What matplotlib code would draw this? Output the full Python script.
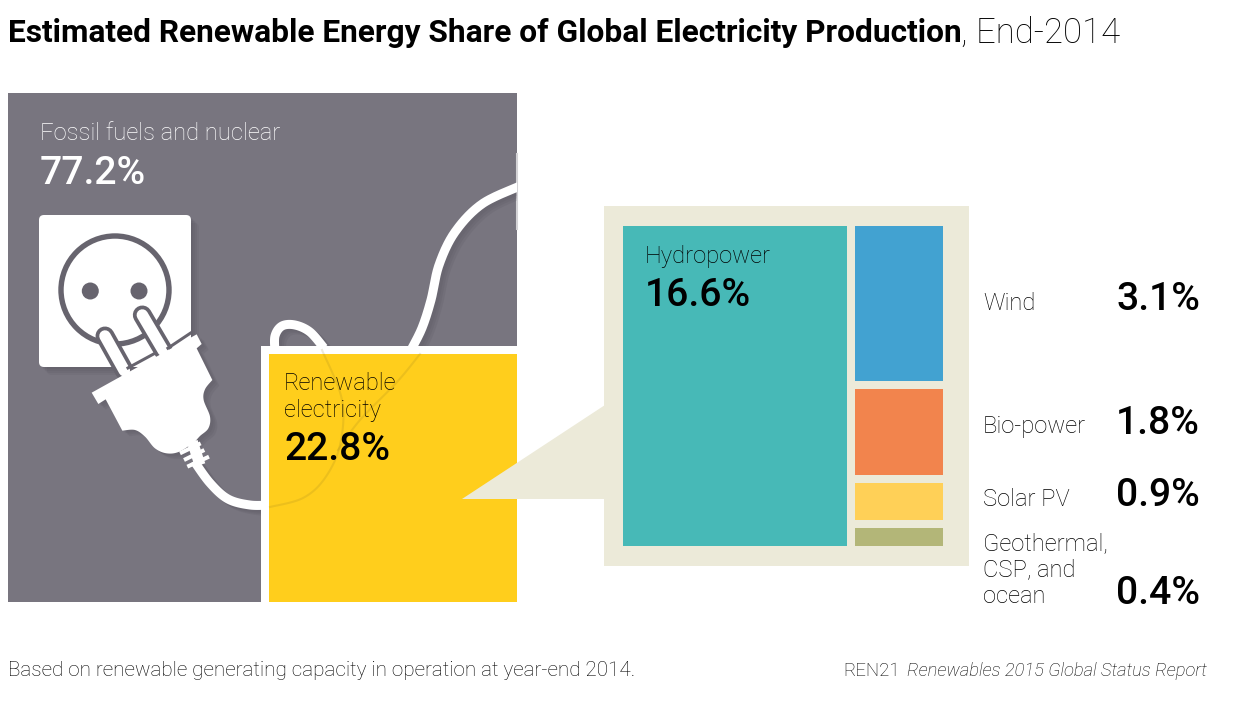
import numpy as np
import matplotlib
matplotlib.use("Agg")
import matplotlib.pyplot as plt
from matplotlib.patches import Rectangle, Circle, Polygon, FancyBboxPatch

# values printed on the chart
fossil_share = 77.2
renewable_share = 22.8
hydro_share = 16.6
tile_names = ["Wind", "Bio-power", "Solar PV", "Geothermal,\nCSP, and\nocean"]
tile_shares = [3.1, 1.8, 0.9, 0.4]
# tile sizes as they are drawn (the artwork is not quite to scale)
tile_drawn = [3.25, 1.80, 0.78, 0.38]
renewable_drawn = 23.7

# colours
GREY = "#78757f"
RING = "#67646e"
SHADOW = "#4f4c57"
YELLOW = "#ffce1c"
PANEL = "#ecead9"
TEAL = "#47b9b7"
tile_colors = ["#42a2d1", "#f2844d", "#ffd057", "#b3b678"]

plt.rcParams["font.family"] = "Roboto"
fig = plt.figure(figsize=(12.33, 7.01), dpi=100)
ax = fig.add_axes([0, 0, 1, 1])
ax.set_xlim(0, 1233)
ax.set_ylim(701, 0)
ax.axis("off")


def smooth(points, n=24):
    # catmull-rom through the points, good enough for cable and plug outlines
    p = np.array(points, dtype=float)
    p = np.vstack([p[0], p, p[-1]])
    out = []
    for i in range(1, len(p) - 2):
        for t in np.linspace(0, 1, n, endpoint=False):
            out.append(0.5 * (2 * p[i] + (p[i + 1] - p[i - 1]) * t
                              + (2 * p[i - 1] - 5 * p[i] + 4 * p[i + 1] - p[i + 2]) * t ** 2
                              + (3 * p[i] - p[i - 1] - 3 * p[i + 1] + p[i + 2]) * t ** 3))
    out.append(p[-1])
    return np.array(out)


def crop(points):
    return [(x / 3 + 85, y / 3 + 300) for x, y in points]


def px(w):
    return w * 0.72


# big square, renewable corner scaled from its share
left, top, side = 8, 93, 509
ren_side = side * np.sqrt(renewable_drawn / 100)
ren_x = left + side - ren_side
ren_y = top + side - ren_side
square = Rectangle((left, top), side, side, fc=GREY, ec="none", zorder=1)
ax.add_patch(square)
ax.plot([517, 517], [154, 229], color="#d4d3d6", lw=1.5, zorder=1.5)


def cable(points, lw=9):
    xy = smooth(points)
    for off in (7, 5, 3):
        line, = ax.plot(xy[:, 0] + off, xy[:, 1] + off * 0.8, color=SHADOW, lw=px(lw), alpha=0.13,
                        zorder=2.9, solid_capstyle="butt")
        line.set_clip_path(square)
    line, = ax.plot(xy[:, 0], xy[:, 1], color="white", lw=px(lw), zorder=3, solid_capstyle="butt")
    line.set_clip_path(square)


# socket plate
for off in (8, 6, 4, 2):
    ax.add_patch(FancyBboxPatch((44 + off, 220 + off), 142, 142, boxstyle="round,pad=5,rounding_size=5",
                                fc=SHADOW, ec="none", alpha=0.12, zorder=1.6))
ax.add_patch(FancyBboxPatch((44, 220), 142, 142, boxstyle="round,pad=5,rounding_size=5",
                            fc="white", ec="none", zorder=2))
ax.add_patch(Circle((115, 290), 54, fc="white", ec=RING, lw=3.9, zorder=2.1))
ax.add_patch(Circle((90.3, 291), 8.5, fc=RING, ec="none", zorder=2.2))
ax.add_patch(Circle((139, 291), 8.5, fc=RING, ec="none", zorder=2.2))

# cable, lower part and the loop and riser behind the yellow square
cable([(194, 461), (210, 483), (228, 499), (250, 505), (270, 505)])
cable([(275, 352), (275, 336), (282, 326), (295, 325), (310, 332), (324, 348)])
cable([(411, 350), (422, 328), (431, 300), (439, 265), (455, 232), (482, 204), (520, 186)])

# plug body
flange = [(20, 278), (335, 103), (350, 132), (335, 145), (382, 240)]
lobes = [(382, 240), (360, 268), (356, 300), (375, 350), (370, 385), (345, 408), (330, 425)]
bottom = [(330, 425), (283, 455), (245, 460), (210, 445), (180, 410), (150, 390), (112, 392)]
back = [(112, 392), (62, 298), (40, 312)]
body = np.vstack([np.array(crop(flange)), smooth(crop(lobes)), smooth(crop(bottom)), np.array(crop(back))])
for off in (7, 5, 3):
    ax.add_patch(Polygon(body + [off, off * 0.8], closed=True, fc=SHADOW, ec="none", alpha=0.13, zorder=2.5))

# pins go under the body so only the part above the flange shows
for tip, base in [((60, 108), (118, 212)), ((172, 45), (235, 152))]:
    (x0, y0), (x1, y1) = crop([tip, base])
    ax.plot([x0, x1], [y0, y1], color=RING, lw=px(19), solid_capstyle="round", zorder=2.6)
    ax.plot([x0, x1], [y0, y1], color="white", lw=px(11.5), solid_capstyle="round", zorder=2.7)
ax.add_patch(Polygon(body, closed=True, fc="white", ec="none", zorder=4))

# grey gaps along the plug face, between the pins and out to the plate edge
for s, e in [((125, 206), (215, 157)), ((245, 147), (320, 97))]:
    (x0, y0), (x1, y1) = crop([s, e])
    ax.plot([x0, x1], [y0, y1], color=RING, lw=px(3), solid_capstyle="butt", zorder=4.2)

# strain relief, a core with three ribs
(x0, y0), (x1, y1) = crop([(322, 425), (345, 495)])
ax.plot([x0, x1], [y0, y1], color="white", lw=px(11), solid_capstyle="butt", zorder=3.5)
for s, e in [((285, 460), (347, 430)), ((297, 480), (358, 450)), ((307, 500), (372, 470))]:
    (x0, y0), (x1, y1) = crop([s, e])
    ax.plot([x0, x1], [y0, y1], color="white", lw=px(4), solid_capstyle="butt", zorder=3.5)

# white border and renewable square
ax.add_patch(Rectangle((ren_x - 8, ren_y - 8), ren_side + 8, ren_side + 8, fc="white", ec="none", zorder=5))
ax.add_patch(Rectangle((ren_x, ren_y), ren_side, ren_side, fc=YELLOW, ec="none", zorder=6))

# faint ghost of the cable through the yellow square
for pts in [[(270, 507), (303, 498), (325, 478), (340, 445), (342, 400), (322, 350)],
            [(420, 354), (397, 382), (360, 420), (338, 450)]]:
    xy = smooth(pts)
    ax.plot(xy[:, 0], xy[:, 1], color="#8a7420", lw=1.5, alpha=0.16, zorder=6.5)

# callout panel
pl, pt, pw, ph = 604, 206, 365, 360
ax.add_patch(Polygon([(pl + 1, 405), (462, 499), (pl + 1, 499)], closed=True, fc=PANEL, ec="none", zorder=7))
ax.add_patch(Rectangle((pl, pt), pw, ph, fc=PANEL, ec="none", zorder=7))

# hydro tile and the stacked column, heights follow the drawn sizes
gap = 8
col_top, col_h = 226, 320
hydro_x, hydro_w = 623, 224
ax.add_patch(Rectangle((hydro_x, col_top), hydro_w, col_h, fc=TEAL, ec="none", zorder=8))
col_x = hydro_x + hydro_w + gap
col_w = 88
px_per_share = (col_h - gap * (len(tile_drawn) - 1)) / sum(tile_drawn)
y = col_top
for size, color in zip(tile_drawn, tile_colors):
    h = size * px_per_share
    ax.add_patch(Rectangle((col_x, y), col_w, h, fc=color, ec="none", zorder=8))
    y += h + gap

# text
ax.text(8, 33, "Estimated Renewable Energy Share of Global Electricity Production", fontsize=22.8,
        fontweight="bold", va="center", ha="left", color="black", zorder=10)
ax.text(961, 33, ", End-2014", fontsize=25, fontweight="light", va="center", ha="left", color="black", zorder=10)


def label(x, y, s, color="black"):
    ax.text(x, y, s, fontsize=17.1, fontweight="light", color=color, va="center", linespacing=1.18, zorder=10)


def big(x, y, value, color="black"):
    ax.text(x, y, f"{value}%", fontsize=28.2, fontweight="medium", color=color, va="center", zorder=10)


label(40, 134, "Fossil fuels and nuclear", "white")
big(40, 173, fossil_share, "white")
label(284, 383, "Renewable")
label(284, 410, "electricity")
big(284, 449, renewable_share)
label(645, 257, "Hydropower")
big(645, 295, hydro_share)

name_y = [304, 427, 500, 570]
share_y = [300, 423, 496, 593]
for name, share, ny, sy in zip(tile_names, tile_shares, name_y, share_y):
    label(983, ny, name)
    big(1116, sy, share)

ax.text(8, 671, "Based on renewable generating capacity in operation at year-end 2014.", fontsize=14.85,
        fontweight="light", color="black", va="center", zorder=10)
ax.text(843, 671, "REN21", fontsize=13.4, fontweight="light", color="black", va="center", ha="left", zorder=10)
ax.text(907, 671, "Renewables 2015 Global Status Report", fontsize=13.2, style="italic", fontweight="light",
        color="black", va="center", ha="left", zorder=10)

fig.savefig("out.png", dpi=100)
